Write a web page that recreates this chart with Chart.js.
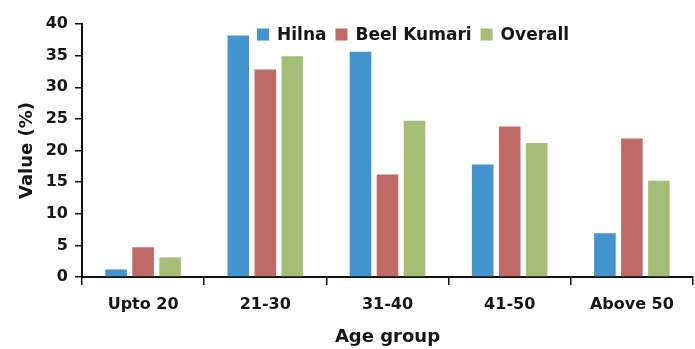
<!DOCTYPE html>
<html>
<head>
<meta charset="utf-8">
<script src="https://cdn.jsdelivr.net/npm/chart.js@4.4.1/dist/chart.umd.min.js"></script>
<style>
    html, body { margin: 0; padding: 0; background: #fff; }
    #wrap { width: 695px; height: 349px; position: relative; }
</style>
</head>
<body>
<div id="wrap"><canvas id="ageChart"></canvas></div>
<script>
// Chart data
const categories = ['Upto 20', '21-30', '31-40', '41-50', 'Above 50'];
const hilna = [1.2, 38.2, 35.6, 17.8, 6.9];
const beelKumari = [4.7, 32.8, 16.2, 23.8, 21.9];
const overall = [3.1, 34.9, 24.7, 21.2, 15.2];
const yTicks = [0, 5, 10, 15, 20, 25, 30, 35, 40];

const FONT = 'DejaVu Sans';
const TEXT = '#161616';

// Legend drawn inside the plot, a bit right of centre
const insideLegend = {
    id: 'insideLegend',
    afterDraw(chart) {
        const ctx = chart.ctx;
        const area = chart.chartArea;
        let x = area.left + 175;
        const y = area.top + 10.5;
        ctx.save();
        ctx.font = 'bold 17px "' + FONT + '"';
        ctx.textBaseline = 'middle';
        chart.data.datasets.forEach(ds => {
            ctx.fillStyle = ds.backgroundColor;
            ctx.fillRect(x, y - 6, 12, 12);
            ctx.fillStyle = TEXT;
            ctx.fillText(ds.label, x + 20, y + 1);
            x += 20 + ctx.measureText(ds.label).width + 9;
        });
        ctx.restore();
    }
};

new Chart(document.getElementById('ageChart').getContext('2d'), {
    type: 'bar',
    data: {
        labels: categories,
        datasets: [
            { label: 'Hilna', data: hilna, backgroundColor: '#4393CE' },
            { label: 'Beel Kumari', data: beelKumari, backgroundColor: '#C06A67' },
            { label: 'Overall', data: overall, backgroundColor: '#A4BE78' }
        ]
    },
    options: {
        responsive: true,
        maintainAspectRatio: false,
        animation: false,
        layout: {
            padding: { top: 24, right: 2, left: 0, bottom: 0 }
        },
        datasets: {
            bar: {
                categoryPercentage: 0.663,
                barPercentage: 0.8
            }
        },
        plugins: {
            legend: { display: false },
            tooltip: { enabled: false }
        },
        scales: {
            x: {
                afterFit: scale => { scale.height = 72; },
                border: { display: true, color: '#111', width: 2 },
                grid: {
                    offset: true,
                    drawOnChartArea: false,
                    drawTicks: true,
                    tickLength: 8,
                    color: '#111',
                    lineWidth: 1.5
                },
                ticks: {
                    color: TEXT,
                    padding: 10,
                    font: { family: FONT, size: 16, weight: 'bold' }
                },
                title: {
                    display: true,
                    text: 'Age group',
                    color: TEXT,
                    padding: { top: 0, bottom: 1 },
                    font: { family: FONT, size: 18, weight: 'bold' }
                }
            },
            y: {
                min: 0,
                max: 40,
                afterFit: scale => { scale.width = 82; },
                afterBuildTicks: scale => {
                    scale.ticks = yTicks.map(v => ({ value: v }));
                },
                border: { display: true, color: '#111', width: 2 },
                grid: {
                    drawOnChartArea: false,
                    drawTicks: true,
                    tickLength: 7,
                    color: '#111',
                    lineWidth: 1.5
                },
                ticks: {
                    color: TEXT,
                    padding: 7,
                    font: { family: FONT, size: 16, weight: 'bold' }
                },
                title: {
                    display: true,
                    text: 'Value (%)',
                    color: TEXT,
                    padding: { top: 17, bottom: 0 },
                    font: { family: FONT, size: 18, weight: 'bold' }
                }
            }
        }
    },
    plugins: [insideLegend]
});
</script>
</body>
</html>
